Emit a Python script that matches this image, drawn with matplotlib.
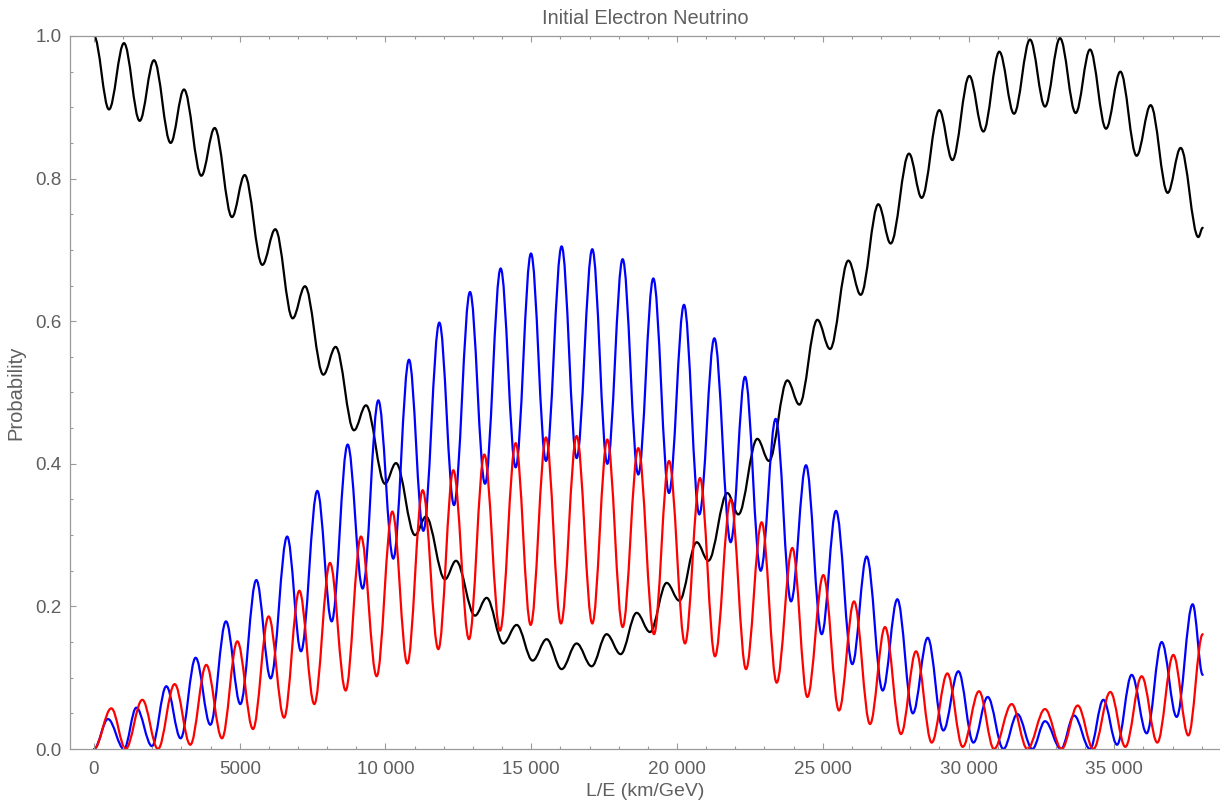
import matplotlib.pyplot as plt
from matplotlib.path import Path
from matplotlib.patches import PathPatch

plt.rcParams['font.family'] = ['Liberation Sans', 'DejaVu Sans']

# extrema (L/E in km/GeV, probability)
pee_x = [0, 515, 1029, 1567, 2058, 2630, 3087, 3682, 4140, 4734, 5169, 5775, 6220, 6815,
         7238, 7868, 8290, 8919, 9331, 9983, 10360, 11012, 11389, 12041, 12418, 13070, 13470,
         14042, 14500, 15048, 15528, 16042, 16557, 17072, 17586, 18067, 18616, 19074, 19645,
         20080, 20675, 21075, 21727, 22105, 22755, 23156, 23785, 24197, 24815, 25249, 25878,
         26301, 26906, 27330, 27959, 28394, 28999, 29446, 30029, 30510, 31057, 31561, 32109,
         32624, 33139, 33676, 34168, 34717, 35210, 35767, 36248, 36832, 37278, 37884, 38033]
pee_y = [1.0, 0.897, 0.990, 0.881, 0.966, 0.850, 0.925, 0.804, 0.871, 0.746, 0.805, 0.679, 0.729, 0.604,
         0.649, 0.525, 0.564, 0.447, 0.482, 0.372, 0.401, 0.300, 0.326, 0.238, 0.264, 0.187, 0.212,
         0.148, 0.174, 0.124, 0.154, 0.112, 0.148, 0.116, 0.161, 0.133, 0.191, 0.164, 0.233,
         0.208, 0.290, 0.264, 0.359, 0.329, 0.435, 0.404, 0.517, 0.483, 0.602, 0.561, 0.685,
         0.637, 0.764, 0.709, 0.835, 0.773, 0.896, 0.826, 0.944, 0.866, 0.978, 0.891, 0.995,
         0.901, 0.997, 0.892, 0.981, 0.870, 0.950, 0.832, 0.903, 0.780, 0.843, 0.718, 0.731]

pemu_x = [0, 480, 1029, 1452, 1990, 2481, 2973, 3488, 3991, 4528, 5020, 5569, 6060, 6627,
          7101, 7661, 8153, 8702, 9216, 9754, 10268, 10806, 11298, 11847, 12350, 12899, 13413,
          13951, 14465, 14991, 15506, 16042, 16557, 17094, 17609, 18135, 18672, 19187, 19725,
          20240, 20766, 21281, 21841, 22333, 22870, 23385, 23911, 24425, 24963, 25454, 26014,
          26506, 27055, 27558, 28090, 28600, 29137, 29652, 30167, 30658, 31196, 31676, 32190,
          32624, 33173, 33619, 34168, 34625, 35095, 35597, 36112, 36626, 37140, 37689, 38033]
pemu_y = [0.0, 0.042, 0.0, 0.058, 0.004, 0.088, 0.015, 0.128, 0.034, 0.179, 0.063, 0.237, 0.099, 0.298,
          0.137, 0.362, 0.179, 0.427, 0.225, 0.489, 0.267, 0.546, 0.306, 0.598, 0.342, 0.641, 0.372,
          0.674, 0.395, 0.695, 0.404, 0.705, 0.408, 0.701, 0.400, 0.687, 0.385, 0.660, 0.359,
          0.623, 0.329, 0.576, 0.290, 0.522, 0.250, 0.463, 0.207, 0.398, 0.161, 0.334, 0.119,
          0.270, 0.082, 0.210, 0.050, 0.156, 0.026, 0.109, 0.009, 0.073, 0.0, 0.049, 0.0,
          0.039, 0.0, 0.047, 0.0, 0.069, 0.006, 0.104, 0.022, 0.150, 0.045, 0.203, 0.104]

petau_x = [0, 595, 1086, 1658, 2196, 2767, 3305, 3853, 4391, 4917, 5454, 5991, 6520, 7044,
           7558, 8096, 8633, 9159, 9697, 10234, 10749, 11275, 11813, 12327, 12864, 13390, 13928,
           14465, 14980, 15506, 16020, 16557, 17094, 17609, 18135, 18672, 19210, 19725, 20274,
           20789, 21303, 21841, 22367, 22904, 23419, 23957, 24471, 25020, 25557, 26072, 26621,
           27135, 27684, 28199, 28737, 29274, 29800, 30360, 30874, 31481, 32018, 32624, 33196,
           33745, 34281, 34865, 35380, 35940, 36477, 37026, 37541, 38033]
petau_y = [0.0, 0.057, 0.0, 0.069, 0.0, 0.091, 0.006, 0.118, 0.015, 0.151, 0.028, 0.186, 0.044, 0.222,
           0.063, 0.261, 0.082, 0.298, 0.102, 0.333, 0.120, 0.363, 0.140, 0.391, 0.154, 0.413, 0.166,
           0.429, 0.174, 0.437, 0.176, 0.439, 0.176, 0.434, 0.171, 0.422, 0.161, 0.404, 0.148,
           0.380, 0.130, 0.350, 0.112, 0.318, 0.093, 0.282, 0.073, 0.244, 0.054, 0.207, 0.035,
           0.171, 0.021, 0.137, 0.009, 0.106, 0.003, 0.081, 0.0, 0.063, 0.0, 0.056, 0.0,
           0.061, 0.0, 0.080, 0.003, 0.102, 0.009, 0.132, 0.019, 0.161]

series = [(pee_x, pee_y, 'black'), (pemu_x, pemu_y, 'blue'), (petau_x, petau_y, 'red')]

x_ticks = [0, 5000, 10000, 15000, 20000, 25000, 30000, 35000]
x_tick_labels = ['0', '5000', '10 000', '15 000', '20 000', '25 000', '30 000', '35 000']
y_ticks = [0.0, 0.2, 0.4, 0.6, 0.8, 1.0]
y_tick_labels = ['0.0', '0.2', '0.4', '0.6', '0.8', '1.0']


def smooth_path(xs, ys, k=0.36):
    # cubic segments between successive extrema, flat tangent at each point
    verts = [(xs[0], ys[0])]
    codes = [Path.MOVETO]
    for x0, y0, x1, y1 in zip(xs[:-1], ys[:-1], xs[1:], ys[1:]):
        dx = x1 - x0
        verts += [(x0 + k * dx, y0), (x1 - k * dx, y1), (x1, y1)]
        codes += [Path.CURVE4] * 3
    return Path(verts, codes)


fig = plt.figure(figsize=(12.2, 8.07), dpi=100)
ax = fig.add_axes([70 / 1220, 1 - 749 / 807, 1 - 70 / 1220, (749 - 36) / 807])

for xs, ys, c in series:
    ax.add_patch(PathPatch(smooth_path(xs, ys), facecolor='none', edgecolor=c,
                           lw=1.6, capstyle='round', joinstyle='round'))

ax.set_xlim(-823, 38627)
ax.set_ylim(0, 1)

gray = '#9a9a9a'
label_gray = '#5f5f5f'
for s in ['left', 'bottom', 'top']:
    ax.spines[s].set_color(gray)
    ax.spines[s].set_linewidth(0.9)
ax.spines['right'].set_visible(False)

ax.set_xticks(x_ticks)
ax.set_xticklabels(x_tick_labels)
ax.set_xticks(range(0, 39000, 1000), minor=True)
ax.set_yticks(y_ticks)
ax.set_yticklabels(y_tick_labels)
ax.set_yticks([i * 0.05 for i in range(21)], minor=True)

ax.tick_params(axis='both', which='both', direction='in', color=gray, width=0.8,
               labelcolor=label_gray, labelsize=13.6)
ax.tick_params(axis='x', which='both', top=True, pad=9)
ax.tick_params(axis='y', which='both', right=False, pad=6)
ax.tick_params(which='major', length=4.5)
ax.tick_params(which='minor', length=2.5)

ax.set_xlabel('L/E (km/GeV)', color=label_gray, fontsize=14, labelpad=3)
ax.set_ylabel('Probability', color=label_gray, fontsize=14.5, labelpad=7)
ax.set_title('Initial Electron Neutrino', color=label_gray, fontsize=14.4, pad=8.5)

fig.savefig('out.png', dpi=100)
